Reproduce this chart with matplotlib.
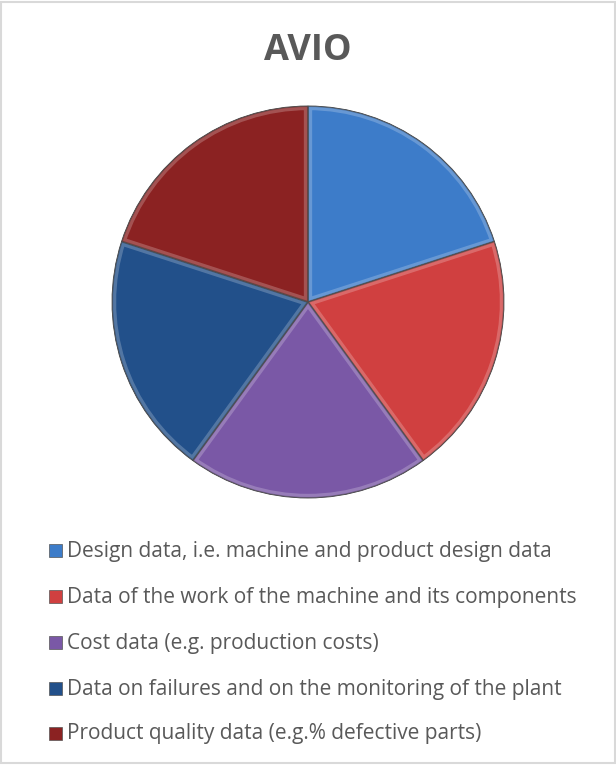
import numpy as np
import matplotlib
matplotlib.use('Agg')
import matplotlib.pyplot as plt
import matplotlib.patches as patches

title = 'AVIO'
labels = ['Design data, i.e. machine and product design data',
          'Data of the work of the machine and its components',
          'Cost data (e.g. production costs)',
          'Data on failures and on the monitoring of the plant',
          'Product quality data (e.g.% defective parts)']
values = [1, 1, 1, 1, 1]
colors = ['#3d7cc9', '#d04040', '#7a58a6', '#22508a', '#8b2222']

plt.rcParams['font.family'] = ['Open Sans', 'DejaVu Sans']

fig = plt.figure(figsize=(6.16, 7.65), dpi=100)
fig.patch.set_facecolor('white')

# chart area border
fig.add_artist(patches.Rectangle((0.002, 0.002), 0.996, 0.996, transform=fig.transFigure,
                                 fill=False, edgecolor='#d9d9d9', linewidth=1.5))

fig.text(0.5, 1 - 51 / 765, title, ha='center', va='center', fontsize=26,
         fontweight='bold', color='#595959')

# pie axes: center (308, 302) px, radius ~196 px
W, H = 616, 765
cx, cy, r = 308, 302, 196
ax = fig.add_axes([(cx - r) / W, 1 - (cy + r) / H, 2 * r / W, 2 * r / H])
wedges, _ = ax.pie(values, colors=colors, startangle=90, counterclock=False,
                   wedgeprops=dict(edgecolor='#3a3a3a', linewidth=0.6))
ax.set_xlim(-1.0, 1.0)
ax.set_ylim(-1.0, 1.0)
ax.set_aspect('equal')

# bevel-ish highlight on each slice
for w, c in zip(wedges, colors):
    hl = patches.Wedge(w.center, w.r, w.theta1, w.theta2, fill=False,
                       edgecolor='white', linewidth=6, alpha=0.22)
    ax.add_patch(hl)
    hl.set_clip_path(w)
    sh = patches.Wedge(w.center, w.r, w.theta1, w.theta2, fill=False,
                       edgecolor='black', linewidth=1.5, alpha=0.25)
    ax.add_patch(sh)
    sh.set_clip_path(w)

# legend
row_y = [551, 597, 643, 689, 734]
for lab, c, y in zip(labels, colors, row_y):
    fig.add_artist(patches.Rectangle((49 / W, 1 - (y + 6) / H), 13 / W, 13 / H,
                                     transform=fig.transFigure, facecolor=c,
                                     edgecolor='#555555', linewidth=0.5))
    fig.text(67 / W, 1 - y / H, lab, ha='left', va='center', fontsize=15.0,
             color='#595959')

fig.savefig('out.png', dpi=100)
